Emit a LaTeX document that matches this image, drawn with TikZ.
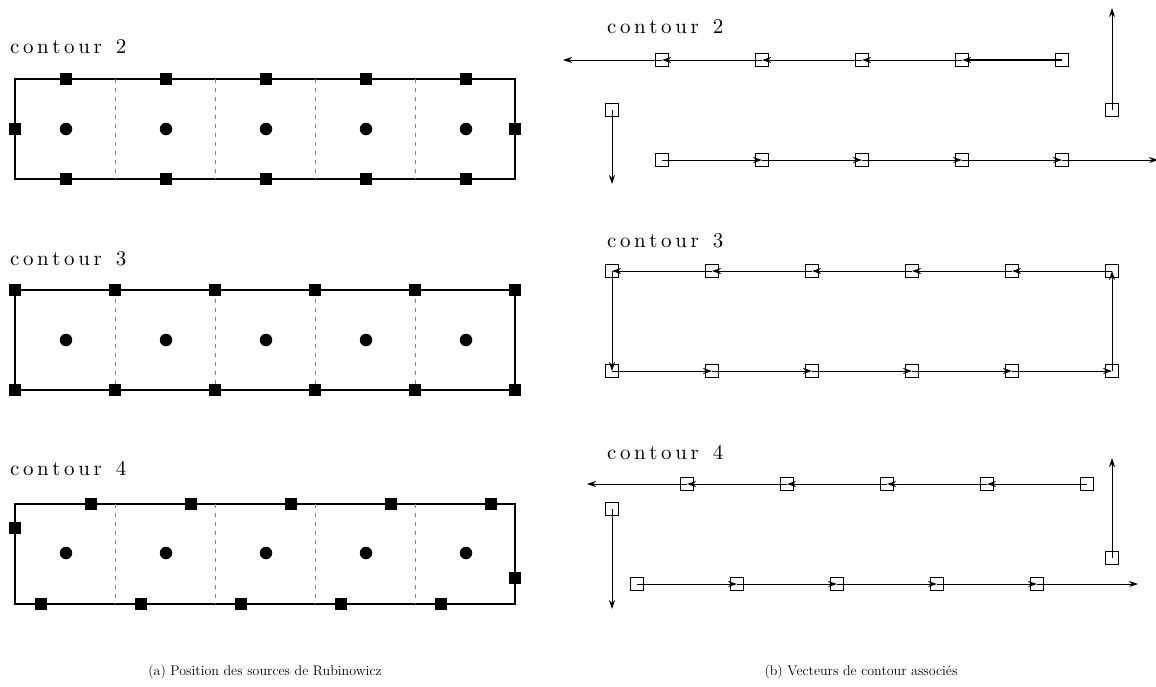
\documentclass[tikz,border=0pt]{standalone}
\usepackage{fontspec}
\usetikzlibrary{arrows.meta}

% police et espacement des titres
\font\ctrfont=cmr10 at 21pt
\newcommand\ltrsp[1]{\ltrsploop#1\relax}
\def\ltrsploop#1{\ifx#1\relax\else#1\kern3.6pt\expandafter\ltrsploop\fi}

\begin{document}
\begin{tikzpicture}[x=1pt, y=-1pt,
  src/.style={rectangle, fill, minimum size=12.5pt, inner sep=0pt},
  pt/.style={circle, fill, minimum size=12.5pt, inner sep=0pt},
  vsq/.style={rectangle, draw, minimum size=12.5pt, inner sep=0pt, line width=0.9pt},
  vec/.style={line width=0.8pt, -{Stealth[length=9pt, width=6pt, inset=3pt]}},
  cut/.style={gray, dash pattern=on 4pt off 5pt, line width=0.8pt},
  lbl/.style={anchor=base west, inner sep=0pt, font=\ctrfont},
  legend/.style={anchor=base, font=\fontsize{14}{16}\selectfont}]

  \useasboundingbox (0,0) rectangle (1156,686);

  % (a) sources de Rubinowicz
  % contour 2
  \node[lbl] (la2) at (10,53) {\ltrsp{contour\ 2}};
  \draw[line width=1.5pt] (15,79) rectangle (515,179);
  \foreach \i in {1,...,4} \draw[cut] (15+100*\i,79) -- (15+100*\i,179);
  \foreach \i in {0,...,4} {
    \node[pt]  (a2d\i) at (66+100*\i,129) {};
    \node[src] (a2t\i) at (66+100*\i,79) {};
    \node[src] (a2b\i) at (66+100*\i,179) {};
  }
  \node[src] (a2l) at (15,129) {};
  \node[src] (a2r) at (515,129) {};

  % contour 3
  \node[lbl] (la3) at (10,265) {\ltrsp{contour\ 3}};
  \draw[line width=1.5pt] (15,290) rectangle (515,390);
  \foreach \i in {1,...,4} \draw[cut] (15+100*\i,290) -- (15+100*\i,390);
  \foreach \i in {0,...,4} \node[pt] (a3d\i) at (66+100*\i,340) {};
  \foreach \i in {0,...,5} {
    \node[src] (a3t\i) at (15+100*\i,290) {};
    \node[src] (a3b\i) at (15+100*\i,390) {};
  }

  % contour 4
  \node[lbl] (la4) at (10,475) {\ltrsp{contour\ 4}};
  \draw[line width=1.5pt] (15,504) rectangle (515,604);
  \foreach \i in {1,...,4} \draw[cut] (15+100*\i,504) -- (15+100*\i,604);
  \foreach \i in {0,...,4} {
    \node[pt]  (a4d\i) at (66+100*\i,553) {};
    \node[src] (a4t\i) at (91+100*\i,504) {};
    \node[src] (a4b\i) at (41+100*\i,604) {};
  }
  \node[src] (a4l) at (15,528) {};
  \node[src] (a4r) at (515,578) {};

  % (b) vecteurs de contour
  % contour 2
  \node[lbl] (lb2) at (607,33) {\ltrsp{contour\ 2}};
  \foreach \i in {0,...,4} {
    \node[vsq] (b2t\i) at (662+100*\i,60) {};
    \node[vsq] (b2b\i) at (662+100*\i,160) {};
  }
  \coordinate (b2tend) at (563,60);
  \coordinate (b2bend) at (1158,160);
  \draw[vec, line width=1.6pt] (b2t4.center) -- (b2t3.center);
  \foreach \i/\j in {3/2,2/1,1/0} \draw[vec] (b2t\i.center) -- (b2t\j.center);
  \draw[vec] (b2t0.center) -- (b2tend);
  \foreach \i/\j in {0/1,1/2,2/3,3/4} \draw[vec] (b2b\i.center) -- (b2b\j.center);
  \draw[vec] (b2b4.center) -- (b2bend);
  \node[vsq] (b2l) at (612,110) {};
  \coordinate (b2lend) at (612,184);
  \draw[vec] (b2l.center) -- (b2lend);
  \node[vsq] (b2r) at (1112,110) {};
  \coordinate (b2rend) at (1112,8);
  \draw[vec] (b2r.center) -- (b2rend);

  % contour 3
  \node[lbl] (lb3) at (607,247) {\ltrsp{contour\ 3}};
  \foreach \i in {0,...,5} {
    \node[vsq] (b3t\i) at (612+100*\i,271) {};
    \node[vsq] (b3b\i) at (612+100*\i,371) {};
  }
  \foreach \i/\j in {5/4,4/3,3/2,2/1,1/0} \draw[vec] (b3t\i.center) -- (b3t\j.center);
  \foreach \i/\j in {0/1,1/2,2/3,3/4,4/5} \draw[vec] (b3b\i.center) -- (b3b\j.center);
  \draw[vec] (b3t0.center) -- (b3b0.center);
  \draw[vec] (b3b5.center) -- (b3t5.center);

  % contour 4
  \node[lbl] (lb4) at (607,459) {\ltrsp{contour\ 4}};
  \foreach \i in {0,...,4} {
    \node[vsq] (b4t\i) at (687+100*\i,484) {};
    \node[vsq] (b4b\i) at (637+100*\i,584) {};
  }
  \coordinate (b4tend) at (587,484);
  \coordinate (b4bend) at (1138,584);
  \foreach \i/\j in {4/3,3/2,2/1,1/0} \draw[vec] (b4t\i.center) -- (b4t\j.center);
  \draw[vec] (b4t0.center) -- (b4tend);
  \foreach \i/\j in {0/1,1/2,2/3,3/4} \draw[vec] (b4b\i.center) -- (b4b\j.center);
  \draw[vec] (b4b4.center) -- (b4bend);
  \node[vsq] (b4l) at (612,509) {};
  \coordinate (b4lend) at (612,609);
  \draw[vec] (b4l.center) -- (b4lend);
  \node[vsq] (b4r) at (1112,558) {};
  \coordinate (b4rend) at (1112,458);
  \draw[vec] (b4r.center) -- (b4rend);

  % legendes
  \node[legend] (capa) at (265,675) {(a) Position des sources de Rubinowicz};
  \node[legend] (capb) at (861,675) {(b) Vecteurs de contour associés};
\end{tikzpicture}
\end{document}
